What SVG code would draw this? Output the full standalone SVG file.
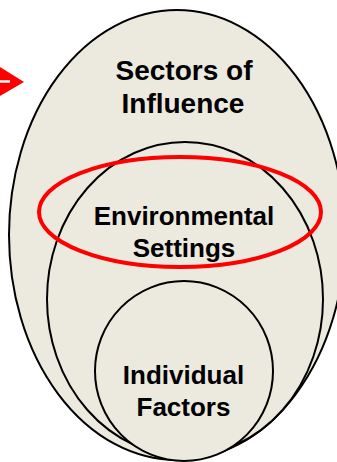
<svg xmlns="http://www.w3.org/2000/svg" width="337" height="462" viewBox="0 0 337 462">
<style>
.c{fill:#ECE9DF;stroke:#000;stroke-width:2}
.t{font-family:"Liberation Sans",Arial,sans-serif;font-weight:bold;font-size:26px;fill:#000;text-anchor:middle}
.big{font-size:28px}
</style>
<rect width="337" height="462" fill="#fff"/>
<g id="sectors">
<ellipse class="c" cx="177" cy="235" rx="168" ry="225"/>
<text class="t big" x="184" y="80">Sectors of</text>
<text class="t big" x="183" y="113">Influence</text>
</g>
<g id="settings">
<ellipse class="c" cx="185" cy="299" rx="138" ry="157"/>
</g>
<g id="individual">
<ellipse class="c" cx="184" cy="371" rx="89" ry="90"/>
<text class="t" x="183.5" y="384">Individual</text>
<text class="t" x="183.5" y="416">Factors</text>
</g>
<g id="highlight">
<ellipse cx="180" cy="212" rx="141" ry="55" fill="none" stroke="#FF0000" stroke-width="4"/>
<text class="t" x="184" y="225">Environmental</text>
<text class="t" x="184" y="257">Settings</text>
</g>
<g id="connectors">
<polygon points="0,67 24,82 0,96" fill="#FF0000"/>
<line x1="0" y1="81.5" x2="10" y2="81.5" stroke="#fff" stroke-width="2.5"/>
</g>
</svg>
